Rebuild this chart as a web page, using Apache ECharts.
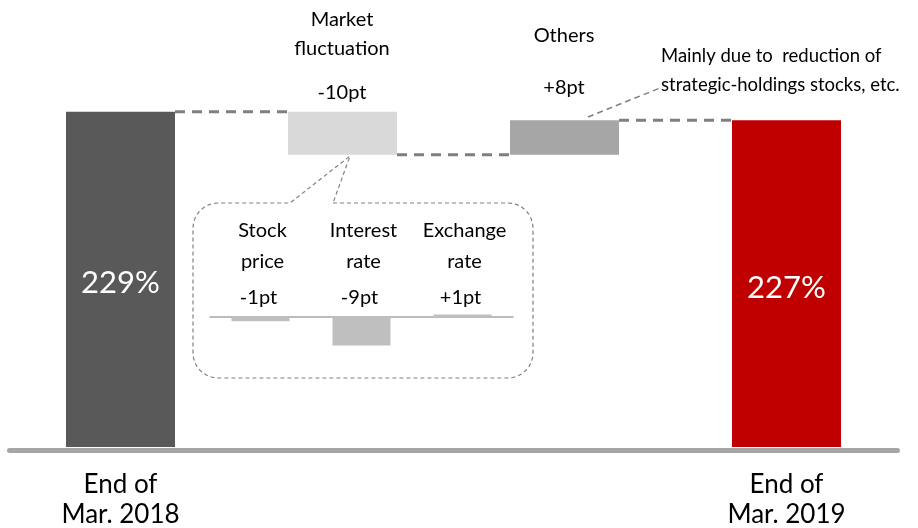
<!DOCTYPE html>
<html>
<head>
<meta charset="utf-8">
<script src="https://cdn.jsdelivr.net/npm/echarts@6/dist/echarts.min.js"></script>
<style>
html,body{margin:0;padding:0;background:#fff;}
#main{width:918px;height:528px;}
</style>
</head>
<body>
<div id="main"></div>
<script>
// data
var categories = ['End of\nMar. 2018', 'Market\nfluctuation', 'Others', 'End of\nMar. 2019'];
var startValue = 229;
var endValue = 227;
var changes = [-10, 8];
var changeLabels = ['-10pt', '+8pt'];
var subCategories = ['Stock\nprice', 'Interest\nrate', 'Exchange\nrate'];
var subValues = [-1.4, -9.2, 0.8];
var subLabels = ['-1pt', '-9pt', '+1pt'];

var font = 'Lato';
var barWidth = 109;
var subBarWidth = 58;
var subLeft = 210, subWidth = 303;

// waterfall levels
var levels = [startValue];
changes.forEach(function (c, i) { levels.push(levels[i] + c); });

var totalData = [startValue, '-', '-', endValue];
var baseData = ['-'];
var deltaData = ['-'];
changes.forEach(function (c, i) {
    baseData.push(Math.min(levels[i], levels[i + 1]));
    deltaData.push({
        value: Math.abs(c),
        itemStyle: { color: i === 0 ? '#d9d9d9' : '#a6a6a6' }
    });
});
baseData.push('-');
deltaData.push('-');
var connectorData = levels.map(function (v, i) { return [i, v]; });

var myChart = echarts.init(document.getElementById('main'));

var texts = [];
function addText(x, y, str, size, align) {
    texts.push({
        type: 'text', x: x, y: y,
        style: {
            text: str, fill: '#000', font: size + 'px ' + font,
            textAlign: align || 'center', textVerticalAlign: 'middle'
        }
    });
}
addText(342, 20, 'Market', 20);
addText(342, 49, 'fluctuation', 20);
addText(342, 93, changeLabels[0], 20);
addText(564, 36, 'Others', 20);
addText(564, 88, changeLabels[1], 20);
addText(661, 56, 'Mainly due to  reduction of', 18.5, 'left');
addText(661, 85, 'strategic-holdings stocks, etc.', 18.5, 'left');
subCategories.forEach(function (name, k) {
    var cx = subLeft + (k + 0.5) * subWidth / subCategories.length;
    var parts = name.split('\n');
    addText(cx + 2, 231, parts[0], 20);
    addText(cx + 2, 262, parts[1], 20);
    addText(cx - 2, 298, subLabels[k], 20);
});

// rounded callout box outline (points along the corners)
function corner(cx, cy, r, a0, a1) {
    var pts = [];
    for (var s = 0; s <= 8; s++) {
        var a = a0 + (a1 - a0) * s / 8;
        pts.push([cx + r * Math.cos(a), cy + r * Math.sin(a)]);
    }
    return pts;
}
var bx0 = 193, bx1 = 533, by0 = 203, by1 = 378, br = 25;
var boxPts = [[333, by0]]
    .concat(corner(bx1 - br, by0 + br, br, -Math.PI / 2, 0))
    .concat(corner(bx1 - br, by1 - br, br, 0, Math.PI / 2))
    .concat(corner(bx0 + br, by1 - br, br, Math.PI / 2, Math.PI))
    .concat(corner(bx0 + br, by0 + br, br, Math.PI, Math.PI * 1.5))
    .concat([[290, by0], [350, 156], [333, by0]]);

myChart.setOption({
    animation: false,
    grid: [
        { left: 9.5, right: 20.5, top: 0, bottom: 81, outerBoundsMode: 'none' },
        { left: subLeft, width: subWidth, top: 301.5, height: 46.5, outerBoundsMode: 'none' }
    ],
    xAxis: [
        {
            type: 'category',
            data: categories,
            offset: 3,
            axisLine: { lineStyle: { color: '#a6a6a6', width: 5 } },
            axisTick: { show: false },
            axisLabel: {
                fontFamily: font, fontSize: 26, color: '#000', lineHeight: 30, margin: 20,
                formatter: function (v, idx) {
                    return (idx === 0 || idx === categories.length - 1) ? v : '';
                }
            }
        },
        {
            type: 'category',
            gridIndex: 1,
            data: subCategories,
            axisLine: { onZero: true, lineStyle: { color: '#a6a6a6', width: 1.5 } },
            axisTick: { show: false },
            axisLabel: { show: false }
        }
    ],
    yAxis: [
        { type: 'value', min: 151, max: 255, show: false, splitLine: { show: false } },
        { type: 'value', gridIndex: 1, min: -10, max: 5, show: false, splitLine: { show: false } }
    ],
    series: [
        {
            name: 'base', type: 'bar', stack: 'wf', barWidth: barWidth, barGap: '-100%',
            itemStyle: { color: 'transparent' },
            data: baseData
        },
        {
            name: 'change', type: 'bar', stack: 'wf', barWidth: barWidth, barGap: '-100%',
            data: deltaData
        },
        {
            name: 'total', type: 'bar', barWidth: barWidth, barGap: '-100%',
            data: totalData.map(function (v, i) {
                return v === '-' ? v : { value: v, itemStyle: { color: i === 0 ? '#595959' : '#c00000' } };
            }),
            label: {
                show: true, position: 'inside', color: '#fff',
                fontFamily: font, fontSize: 31, offset: [0, 4],
                formatter: function (p) { return p.value + '%'; }
            }
        },
        {
            name: 'connector', type: 'custom',
            data: connectorData,
            encode: { x: 0, y: 1 },
            renderItem: function (params, api) {
                var i = api.value(0), lv = api.value(1);
                if (i >= categories.length - 1) return;
                var p1 = api.coord([i, lv]);
                var p2 = api.coord([i + 1, lv]);
                var hw = barWidth / 2;
                return {
                    type: 'line',
                    shape: { x1: p1[0] + hw, y1: p1[1], x2: p2[0] - hw, y2: p2[1] },
                    style: { stroke: '#7f7f7f', lineWidth: 3, lineDash: [10, 7] }
                };
            },
            z: 1
        },
        {
            name: 'sub', type: 'bar', xAxisIndex: 1, yAxisIndex: 1,
            barWidth: subBarWidth,
            itemStyle: { color: '#bfbfbf' },
            data: subValues
        }
    ],
    graphic: texts.concat([
        {
            type: 'polyline',
            shape: { points: boxPts },
            style: { fill: null, stroke: '#808080', lineWidth: 1.2, lineDash: [4, 3] }
        },
        {
            type: 'line',
            shape: { x1: 588, y1: 117, x2: 660, y2: 88 },
            style: { stroke: '#808080', lineWidth: 1.5, lineDash: [6, 4] }
        }
    ])
});
</script>
</body>
</html>
